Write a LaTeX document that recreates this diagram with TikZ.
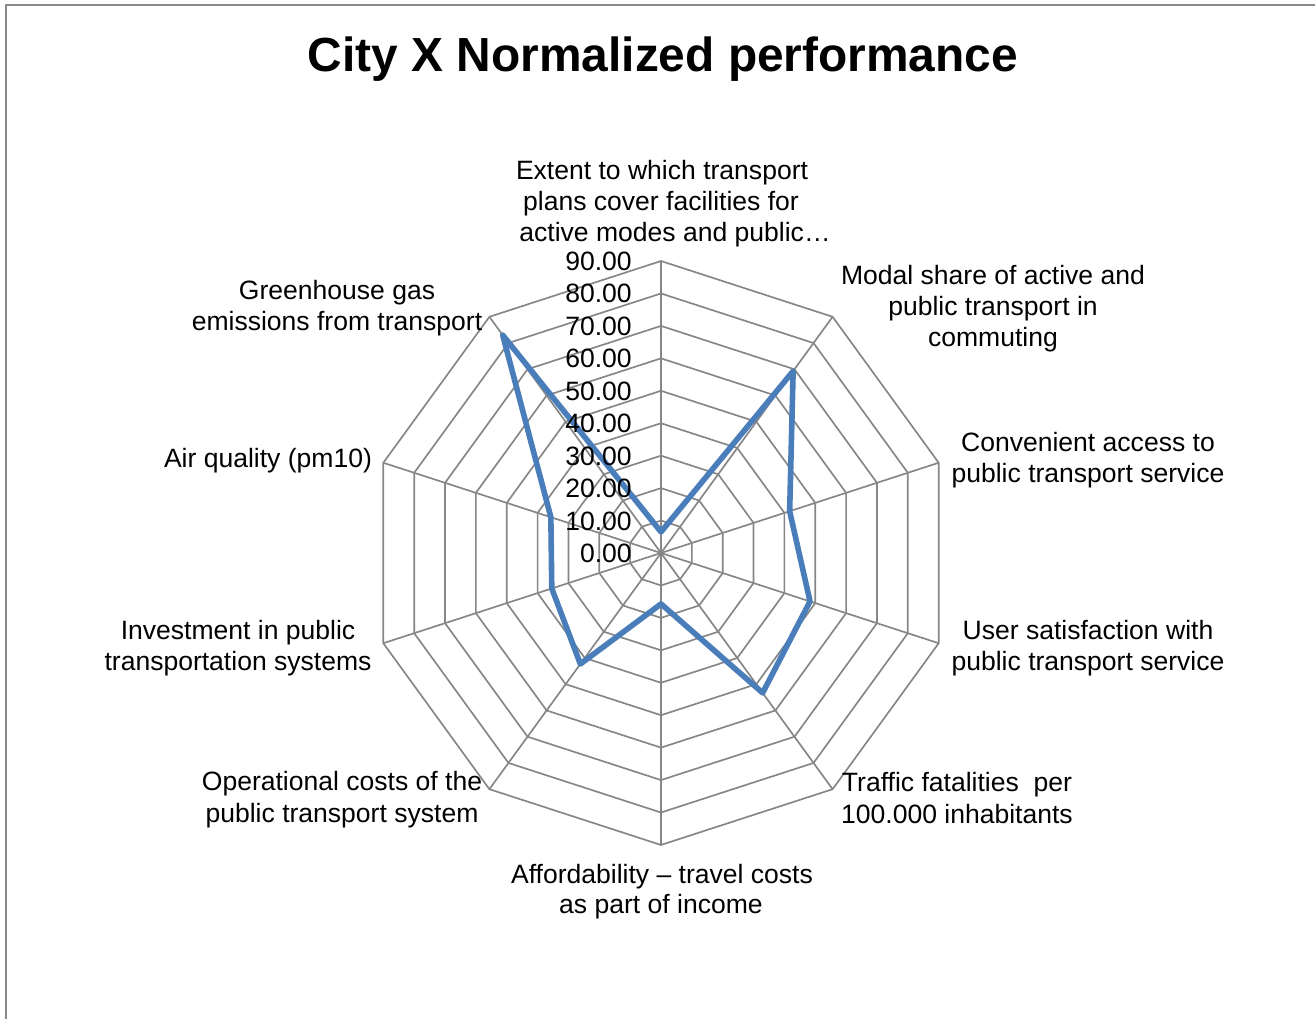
\documentclass[tikz,border=0pt]{standalone}
\usepackage{fontspec}
\setmainfont{Liberation Sans}
\definecolor{gridgray}{HTML}{868686}
\definecolor{framegray}{HTML}{8A8A8A}
\definecolor{seriesblue}{HTML}{4A7EBB}
\begin{document}
\begin{tikzpicture}[x=0.75pt,y=-0.75pt,
  grid/.style={draw=gridgray, line width=1.25pt},
  lbl/.style={font=\fontsize{19.9}{23}\selectfont, anchor=base, inner sep=0pt},
  ticklbl/.style={font=\fontsize{19.9}{23}\selectfont, anchor=base east, inner sep=0pt},
  series/.style={draw=seriesblue, line width=4.2pt, line join=round},
  titlestyle/.style={font=\fontsize{35.9}{40}\selectfont\bfseries, anchor=base, inner sep=0pt}]
\useasboundingbox (0,0) rectangle (1315,1019);
\fill[white] (0,0) rectangle (1315,1019);
\draw[framegray, line width=1.5pt] (5.5,1019) -- (5.5,5.5) -- (1315,5.5);

\node[titlestyle] (title) at (663,72) {City X Normalized performance};

\coordinate (c) at (661,553);
% rings
\foreach \k in {1,...,9}{
  \pgfmathsetmacro\r{32.44*\k}
  \draw[grid] ({661+\r*cos(90)},{553-\r*sin(90)})
    \foreach \a in {54,18,...,-234} { -- ({661+\r*cos(\a)},{553-\r*sin(\a)}) } -- cycle;
}
% spokes
\foreach \a [count=\i] in {90,54,18,...,-234}{
  \coordinate (s\i) at ({661+292*cos(\a)},{553-292*sin(\a)});
  \draw[grid] (c) -- (s\i);
}
% data
\foreach \a/\v [count=\i] in {90/6.5,54/69.3,18/41.7,-18/48.3,-54/53.3,-90/15.7,-126/42.3,-162/35.4,-198/35.7,-234/83}{
  \coordinate (p\i) at ({661+3.244*\v*cos(\a)},{553-3.244*\v*sin(\a)});
}
\draw[series] (p1) -- (p2) -- (p3) -- (p4) -- (p5) -- (p6) -- (p7) -- (p8) -- (p9) -- (p10) -- cycle;

% tick labels
\foreach \k/\t in {0/0.00,1/10.00,2/20.00,3/30.00,4/40.00,5/50.00,6/60.00,7/70.00,8/80.00,9/90.00}{
  \node[ticklbl] (t\k) at (632,{553-32.44*\k+9.5}) {\t};
}

% category labels
\node[lbl] (l1a) at (662,180) {Extent to which transport};
\node[lbl] (l1b) at (661,211) {plans cover facilities for};
\node[lbl] (l1c) at (675,242) {active modes and public…};

\node[lbl] (l2a) at (993,285) {Modal share of active and};
\node[lbl] (l2b) at (993,316) {public transport in};
\node[lbl] (l2c) at (993,347) {commuting};

\node[lbl] (l3a) at (1088,452) {Convenient access to};
\node[lbl] (l3b) at (1088,483) {public transport service};

\node[lbl] (l4a) at (1088,640) {User satisfaction with};
\node[lbl] (l4b) at (1088,671) {public transport service};

\node[lbl] (l5a) at (957,792) {Traffic fatalities\ \ per};
\node[lbl] (l5b) at (957,823) {100.000 inhabitants};

\node[lbl] (l6a) at (662,883) {Affordability – travel costs};
\node[lbl] (l6b) at (661,913) {as part of income};

\node[lbl] (l7a) at (342,791) {Operational costs of the};
\node[lbl] (l7b) at (342,822) {public transport system};

\node[lbl] (l8a) at (238,640) {Investment in public};
\node[lbl] (l8b) at (238,671) {transportation systems};

\node[lbl] (l9) at (268,468) {Air quality (pm10)};

\node[lbl] (l10a) at (337,300) {Greenhouse gas};
\node[lbl] (l10b) at (337,331) {emissions from transport};
\end{tikzpicture}
\end{document}
